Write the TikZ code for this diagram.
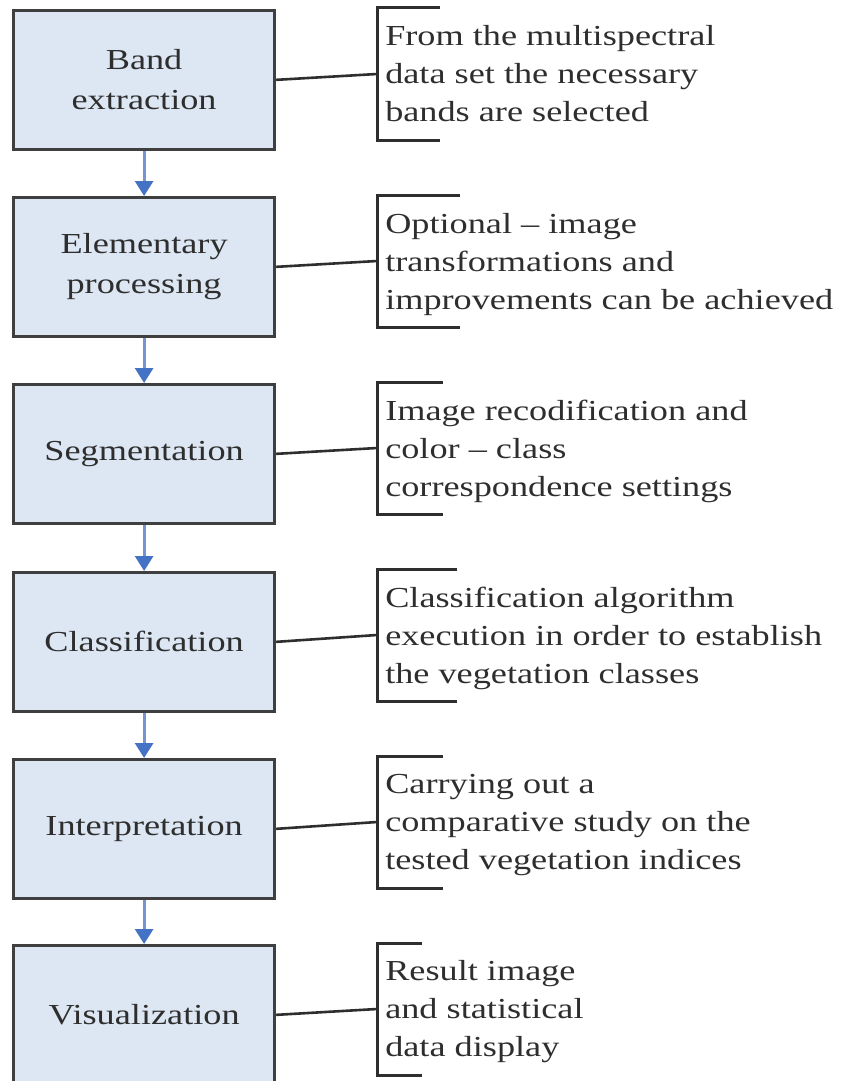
\documentclass[tikz,border=0pt]{standalone}
\usepackage{fontspec}
\setmainfont{Liberation Serif}
\usetikzlibrary{arrows.meta}

\definecolor{boxfill}{HTML}{DDE6F3}
\definecolor{boxline}{HTML}{3F3F3F}
\definecolor{flowline}{HTML}{7495CF}
\definecolor{flowtip}{HTML}{4472C4}
\definecolor{ink}{HTML}{2E2E2E}

\newcommand{\wide}[1]{\scalebox{1.25}[1]{#1}}

\tikzstyle{stage}=[draw=boxline, line width=3.2pt, fill=boxfill, anchor=north west, minimum width=261pt, minimum height=138.5pt, align=center, text=ink, font=\fontsize{29}{40}\selectfont]
\tikzstyle{note}=[anchor=north west, inner sep=0pt, align=left, text=ink, xscale=1.25, font=\fontsize{29}{38}\selectfont]
\tikzstyle{bracket}=[draw=ink, line width=3pt]
\tikzstyle{link}=[draw=ink, line width=2.6pt]
\tikzstyle{down}=[draw=flowline, line width=3pt, -{Triangle[width=18pt,length=15pt,color=flowtip]}]

\begin{document}
\begin{tikzpicture}[x=1pt, y=-1pt]
            \useasboundingbox (0,0) rectangle (841,1081);
            % stages
            \node[stage] at (12,9) (S1) {\wide{Band}\\\wide{extraction}};
            \node[stage] at (12,196) (S2) {\wide{Elementary}\\\wide{processing}};
            \node[stage] at (12,383) (S3) {\wide{Segmentation}};
            \node[stage] at (12,571) (S4) {\wide{Classification}};
            \node[stage] at (12,758) (S5) {\wide{Interpretation}};
            \node[stage] at (12,944) (S6) {\wide{Visualization}};
            \draw[down] (S1) -- (S2);
            \draw[down] (S2) -- (S3);
            \draw[down] (S3) -- (S4);
            \draw[down] (S4) -- (S5);
            \draw[down] (S5) -- (S6);
            % brackets with notes
            \coordinate (K1) at (377,74);
            \coordinate (K2) at (377,261);
            \coordinate (K3) at (377,448);
            \coordinate (K4) at (377,635);
            \coordinate (K5) at (377,822);
            \coordinate (K6) at (377,1009);
            \draw[bracket] (440,8) -- (377,8) -- (377,140) -- (440,140);
            \draw[bracket] (460,195) -- (377,195) -- (377,327) -- (460,327);
            \draw[bracket] (443,382) -- (377,382) -- (377,514) -- (443,514);
            \draw[bracket] (457,569) -- (377,569) -- (377,701) -- (457,701);
            \draw[bracket] (443,756) -- (377,756) -- (377,888) -- (443,888);
            \draw[bracket] (422,943) -- (377,943) -- (377,1075) -- (422,1075);
            \node[note] at (385,25) (N1) {From the multispectral\\data set the necessary\\bands are selected};
            \node[note] at (385,213) (N2) {Optional -- image\\transformations and\\improvements can be achieved};
            \node[note] at (385,400) (N3) {Image recodification and\\color -- class\\correspondence settings};
            \node[note] at (385,587) (N4) {Classification algorithm\\execution in order to establish\\the vegetation classes};
            \node[note] at (385,774) (N5) {Carrying out a\\comparative study on the\\tested vegetation indices};
            \node[note] at (385,960) (N6) {Result image\\and statistical\\data display};
            \draw[link] (S1.east) -- (K1);
            \draw[link] (S2.east) -- (K2);
            \draw[link] (S3.east) -- (K3);
            \draw[link] (S4.east) -- (K4);
            \draw[link] (S5.east) -- (K5);
            \draw[link] (S6.east) -- (K6);
        \end{tikzpicture}
\end{document}
